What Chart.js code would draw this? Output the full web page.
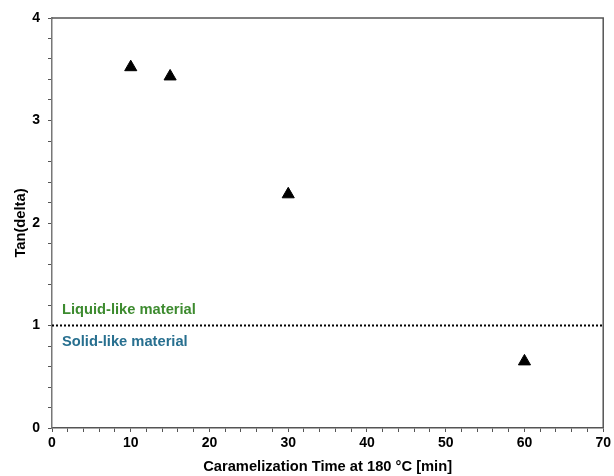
<!DOCTYPE html>
<html>
<head>
<meta charset="utf-8">
<script src="https://cdn.jsdelivr.net/npm/chart.js@4/dist/chart.umd.min.js"></script>
<style>
  html, body { margin: 0; padding: 0; background: #fff; }
  #wrap { width: 614px; height: 476px; }
</style>
</head>
<body>
<div id="wrap"><canvas id="tanChart" width="614" height="476"></canvas></div>
<script>
// data
const caramelTimes = [10, 15, 30, 60];
const tanDelta = [3.52, 3.43, 2.28, 0.65];
const thresholdX = [0, 70];
const thresholdY = [1, 1];
const regionLabels = ['Liquid-like material', 'Solid-like material'];

const FONT = "'Liberation Sans', Arial, sans-serif";

// frame around plot area + region texts
const framePlugin = {
    id: 'frame',
    afterDatasetsDraw(chart) {
        const { ctx, chartArea: a, scales } = chart;
        ctx.save();
        ctx.strokeStyle = '#555';
        ctx.lineWidth = 1.5;
        ctx.beginPath();
        ctx.moveTo(a.left, a.top);
        ctx.lineTo(a.right, a.top);
        ctx.lineTo(a.right, a.bottom);
        ctx.stroke();

        const yLine = scales.y.getPixelForValue(thresholdY[0]);
        const xText = scales.x.getPixelForValue(0) + 10;
        ctx.font = 'bold 14.7px ' + FONT;
        ctx.textBaseline = 'middle';
        ctx.fillStyle = '#3d8b2f';
        ctx.fillText(regionLabels[0], xText, yLine - 16);
        ctx.fillStyle = '#276f8f';
        ctx.fillText(regionLabels[1], xText, yLine + 16);
        ctx.restore();
    }
};

const ctx = document.getElementById('tanChart').getContext('2d');
new Chart(ctx, {
    type: 'scatter',
    data: {
        datasets: [
            {
                label: 'Tan(delta)',
                data: caramelTimes.map((t, i) => ({ x: t, y: tanDelta[i] })),
                pointStyle: 'triangle',
                pointRadius: 7,
                backgroundColor: '#000',
                borderColor: '#000',
                borderWidth: 1
            },
            {
                label: 'threshold',
                type: 'line',
                data: thresholdX.map((x, i) => ({ x: x, y: thresholdY[i] })),
                borderColor: '#000',
                borderWidth: 2,
                borderDash: [2, 2],
                pointRadius: 0,
                fill: false
            }
        ]
    },
    options: {
        responsive: false,
        animation: false,
        layout: { padding: { top: 18, right: 10, left: 0, bottom: 0 } },
        plugins: {
            legend: { display: false },
            tooltip: { enabled: false }
        },
        scales: {
            x: {
                type: 'linear',
                min: 0,
                max: 70,
                afterFit: s => { s.height = 48; },
                ticks: {
                    stepSize: 2,
                    autoSkip: false,
                    maxRotation: 0,
                    padding: 3,
                    color: '#000',
                    font: { family: FONT, size: 14, weight: 'bold' },
                    callback: v => (v % 10 === 0 ? v : '')
                },
                grid: { drawOnChartArea: false, tickLength: 4, color: '#555', tickWidth: 1 },
                border: { color: '#555', width: 1.5 },
                title: {
                    display: true,
                    text: 'Caramelization Time at 180 °C [min]',
                    color: '#000',
                    font: { family: FONT, size: 14.7, weight: 'bold' },
                    padding: { top: 2, bottom: 0 }
                }
            },
            y: {
                type: 'linear',
                min: 0,
                max: 4,
                afterFit: s => { s.width = 52; },
                ticks: {
                    stepSize: 0.2,
                    autoSkip: false,
                    padding: 8,
                    color: '#000',
                    font: { family: FONT, size: 14, weight: 'bold' },
                    callback: v => (Math.abs(v - Math.round(v)) < 1e-6 ? Math.round(v) : '')
                },
                grid: { drawOnChartArea: false, tickLength: 4, color: '#555', tickWidth: 1 },
                border: { color: '#777', width: 1.5 },
                title: {
                    display: true,
                    text: 'Tan(delta)',
                    color: '#000',
                    font: { family: FONT, size: 14.7, weight: 'bold' },
                    padding: { top: 12, bottom: 0 }
                }
            }
        }
    },
    plugins: [framePlugin]
});
</script>
</body>
</html>
